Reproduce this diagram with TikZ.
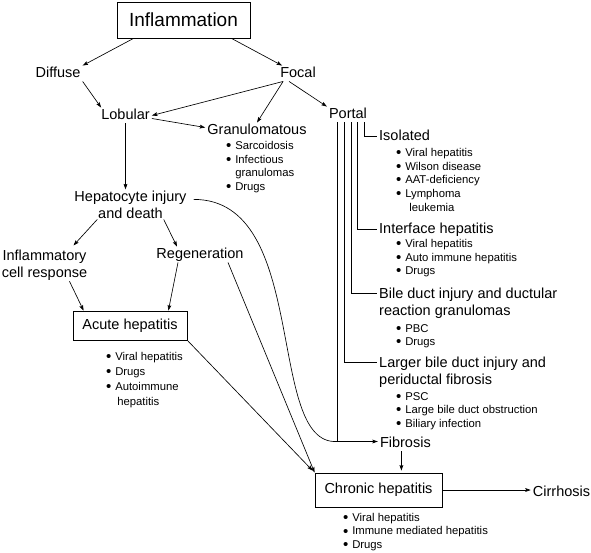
\documentclass[tikz,border=0pt]{standalone}
\usepackage{fontspec}
\setmainfont{Liberation Sans}
\usetikzlibrary{arrows.meta}
\newcommand{\bigdot}{\raisebox{-1.2pt}{\fontsize{15}{15}\selectfont\textbullet}}
\newcommand{\bitem}{\bigdot\hspace{3.8pt}}
\newcommand{\bindent}{\phantom{\bigdot}\hspace{3.8pt}}
\begin{document}
\begin{tikzpicture}[x=1pt,y=-1pt,
  arr/.style={-{Stealth[length=5.5pt,width=3.8pt,inset=1pt]}, line width=0.65pt},
  ln/.style={line width=0.65pt},
  med/.style={font=\fontsize{14.5}{17}\selectfont, inner xsep=2pt, inner ysep=1pt},
  medone/.style={med, text height=10.5pt, text depth=3pt},
  lst/.style={font=\fontsize{11.3}{13.7}\selectfont, inner sep=0pt, anchor=north west, align=left},
  boxed/.style={draw, line width=0.8pt, medone, inner sep=0pt}]
\path[fill=white] (0,0) rectangle (591,552);
\useasboundingbox (0,0) rectangle (591,552);

% nodes
\node[draw, line width=0.8pt, minimum width=133pt, minimum height=36pt, inner sep=0pt,
      font=\fontsize{19}{22}\selectfont] (infl) at (183.5,20) {Inflammation};
\node[medone] (diffuse) at (58,73.5) {Diffuse};
\node[medone] (focal) at (298,73.5) {Focal};
\node[medone] (lobular) at (125.5,115.5) {Lobular};
\node[medone] (gran) at (257,130.5) {Granulomatous};
\node[lst] (granlist) at (226,141) {\bitem Sarcoidosis\\\bitem Infectious\\\bindent granulomas\\\bitem Drugs};
\node[medone] (portal) at (348,114.5) {Portal};
\node[medone, anchor=west] (iso) at (377,136.5) {Isolated};
\node[lst] (isolist) at (396,148) {\bitem Viral hepatitis\\\bitem Wilson disease\\\bitem AAT-deficiency\\\bitem Lymphoma\\\bindent\hspace{4pt}leukemia};
\node[medone, anchor=west] (inter) at (377,229.5) {Interface hepatitis};
\node[lst] (interlist) at (396,239) {\bitem Viral hepatitis\\\bitem Auto immune hepatitis\\\bitem Drugs};
\node[med, anchor=west, align=left] (bile) at (377,302.9) {Bile duct injury and ductular\\reaction granulomas};
\node[lst] (bilelist) at (396,324) {\bitem PBC\\\bitem Drugs};
\node[med, anchor=west, align=left] (larger) at (377,371.9) {Larger bile duct injury and\\periductal fibrosis};
\node[lst] (largerlist) at (396,392) {\bitem PSC\\\bitem Large bile duct obstruction\\\bitem Biliary infection};
\node[medone] (fib) at (405.4,443.5) {Fibrosis};
\node[med, align=center] (hep) at (130.5,204.4) {Hepatocyte injury\\and death};
\node[med, align=center] (inflcell) at (44.5,264.9) {Inflammatory\\cell response};
\node[medone] (regen) at (200,254.5) {Regeneration};
\node[boxed, minimum width=114pt, minimum height=29pt] (acute) at (130,325.5) {Acute hepatitis};
\node[lst, font=\fontsize{11.3}{15}\selectfont] (acutelist) at (106,352) {\bitem Viral hepatitis\\\bitem Drugs\\\bitem Autoimmune\\\bindent\hspace{2pt}hepatitis};
\node[boxed, minimum width=127pt, minimum height=34pt] (chronic) at (378.5,490) {Chronic hepatitis};
\node[lst, font=\fontsize{11.3}{13.5}\selectfont] (chroniclist) at (343,513) {\bitem Viral hepatitis\\\bitem Immune mediated hepatitis\\\bitem Drugs};
\node[medone] (cirr) at (561.5,492.5) {Cirrhosis};

% connectors
\draw[arr] ([xshift=-50pt]infl.south) -- (diffuse.north east);
\draw[arr] ([xshift=48pt]infl.south) -- ([xshift=4pt]focal.north west);
\draw[arr] (diffuse.south east) -- ([xshift=2pt]lobular.north west);
\draw[arr] ([xshift=5pt]focal.south west) -- (lobular.east);
\draw[arr] ([xshift=5pt]focal.south west) -- (gran.north);
\draw[arr] ([xshift=11pt]focal.south west) -- (portal.north west);
\draw[arr] ([yshift=-3pt]lobular.east) -- ([yshift=3pt]gran.west);
\draw[arr] (lobular.south) -- (lobular.south |- hep.north);
\draw[arr] ([xshift=25pt]hep.south west) -- ([shift={(29pt,3pt)}]inflcell.north);
\draw[arr] ([xshift=-25pt]hep.south east) -- ([xshift=-23pt]regen.north);
\draw[arr] ([xshift=25pt]inflcell.south) -- ([xshift=11pt]acute.north west);
\draw[arr] ([xshift=-22pt]regen.south) -- ([xshift=-19pt]acute.north east);
\draw[arr] ([xshift=28pt]regen.south) -- (chronic.north west);
\draw[arr] (acute.south east) -- ([shift={(-2pt,2pt)}]chronic.north west);

\coordinate (pa) at ([xshift=-11pt]portal.south);
\coordinate (pb) at ([xshift=-4pt]portal.south);
\coordinate (pc) at ([xshift=3pt]portal.south);
\coordinate (pd) at ([xshift=9pt]portal.south);
\coordinate (pe) at ([xshift=16pt]portal.south);
\coordinate (fibin) at ([yshift=2pt]fib.west);
\coordinate (fc) at (pa |- fibin);
\draw[arr] (pa) |- (fibin);
\draw[ln] (pb) |- ([yshift=9.9pt]larger.west);
\draw[ln] (pc) |- ([yshift=9.9pt]bile.west);
\draw[ln] (pd) |- (inter.west);
\draw[ln] (pe) |- (iso.west);
\draw[ln] ([shift={(5pt,5pt)}]hep.east) .. controls +(117,0) and +(-72,4) .. (fc);

\coordinate (fs) at ([xshift=-4pt]fib.south);
\draw[arr, shorten >=2pt] (fs) -- (fs |- chronic.north);
\draw[arr] (chronic.east) -- (chronic.east -| cirr.west);
\end{tikzpicture}
\end{document}
